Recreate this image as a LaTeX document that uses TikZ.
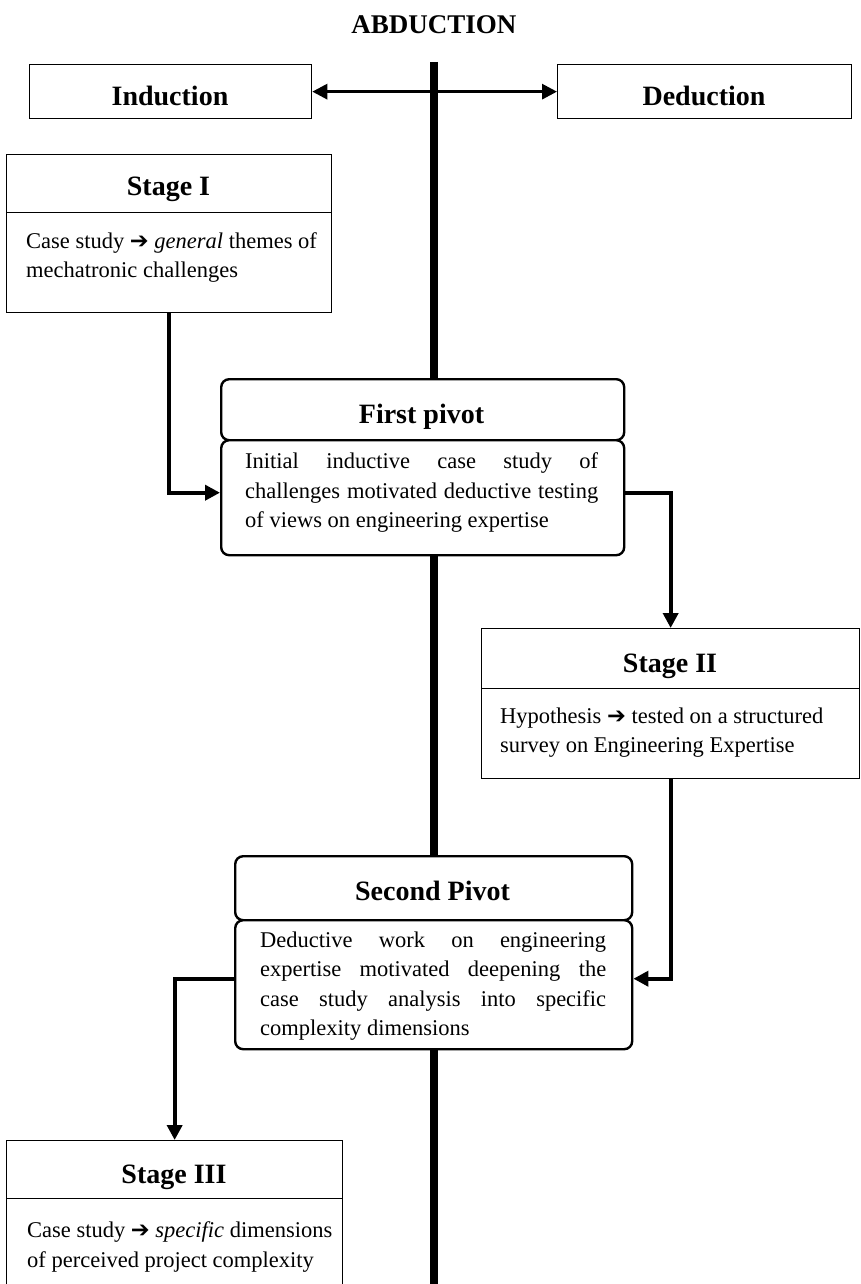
\documentclass[tikz,border=0pt]{standalone}
\usepackage{fontspec}
\setmainfont{Liberation Serif}
\newfontfamily\dingfont{DejaVu Sans}
\usetikzlibrary{arrows.meta}
\newcommand{\thenarrow}{{\dingfont\char"2794}}

\begin{document}
\begin{tikzpicture}[x=1pt,y=-1pt,
  axis/.style={line width=7.5pt},
  stagebox/.style={draw, line width=1.3pt, fill=white, inner sep=0pt, anchor=north west},
  pivotbox/.style={draw, line width=2.4pt, fill=white, rounded corners=8pt, inner sep=0pt, anchor=north west},
  head/.style={font=\fontsize{28}{32}\selectfont\bfseries, inner sep=0pt, anchor=base},
  body/.style={font=\fontsize{22.5}{29.5}\selectfont, align=left, inner sep=0pt, anchor=north west},
  conn/.style={line width=3.8pt, -{Triangle[length=15pt,width=15pt]}},
  dbl/.style={line width=3pt, {Triangle[length=15pt,width=15pt]}-{Triangle[length=15pt,width=15pt]}},
]
\useasboundingbox (0,0) rectangle (860,1284);
\clip (0,0) rectangle (860,1284);

% central abduction axis
\coordinate (axtop) at (434,62);
\coordinate (axend) at (434,1300);
\draw[axis] (axtop) -- (axend);

\node[font=\fontsize{27}{30}\selectfont\bfseries, inner sep=0pt, anchor=base] (title) at (434,34) {ABDUCTION};

% induction / deduction
\node[stagebox, minimum width=282pt, minimum height=54pt] (ind) at (29,64) {};
\node[head] (indt) at (170,106) {Induction};
\node[stagebox, minimum width=294pt, minimum height=54pt] (ded) at (557,64) {};
\node[head] (dedt) at (704,106) {Deduction};
\draw[dbl] (ind.east) -- (ded.west);

% Stage I
\node[stagebox, minimum width=325pt, minimum height=58pt] (s1h) at (6,154) {};
\node[stagebox, minimum width=325pt, minimum height=100pt] (s1) at (6,212) {};
\node[head] (s1t) at (168.5,196) {Stage I};
\node[body] (s1x) at (26,232) {Case study \thenarrow{} \emph{general} themes of\\mechatronic challenges};

% First pivot
\node[pivotbox, minimum width=403pt, minimum height=61pt] (p1h) at (220,378) {};
\node[pivotbox, minimum width=403pt, minimum height=115pt] (p1) at (220,439) {};
\node[head] (p1t) at (421.5,423) {First pivot};
\node[body] (p1x) at (245,452.5) {\makebox[353pt][s]{Initial inductive case study of}\\
  \makebox[353pt][s]{challenges motivated deductive testing}\\
  of views on engineering expertise};

% Stage II
\node[stagebox, minimum width=378pt, minimum height=60pt] (s2h) at (481,628) {};
\node[stagebox, minimum width=378pt, minimum height=90pt] (s2) at (481,688) {};
\node[head] (s2t) at (670,672) {Stage II};
\node[body] (s2x) at (500,707.5) {Hypothesis \thenarrow{} tested on a structured\\survey on Engineering Expertise};

% Second pivot
\node[pivotbox, minimum width=397pt, minimum height=64pt] (p2h) at (234,855) {};
\node[pivotbox, minimum width=397pt, minimum height=129pt] (p2) at (234,919) {};
\node[head] (p2t) at (432.5,900) {Second Pivot};
\node[body] (p2x) at (260,931.5) {\makebox[346pt][s]{Deductive work on engineering}\\
  \makebox[346pt][s]{expertise motivated deepening the}\\
  \makebox[346pt][s]{case study analysis into specific}\\
  complexity dimensions};

% Stage III
\node[stagebox, minimum width=336pt, minimum height=58pt] (s3h) at (6,1140) {};
\node[stagebox, minimum width=336pt, minimum height=110pt] (s3) at (6,1198) {};
\node[head] (s3t) at (174,1183) {Stage III};
\node[body] (s3x) at (27,1221.5) {Case study \thenarrow{} \emph{specific} dimensions\\of perceived project complexity};

% flow between stages and pivots
\draw[conn] (s1.south) |- ([yshift=5pt]p1.west);
\draw[conn] ([yshift=5pt]p1.east) -| (s2h.north);
\draw[conn] (s2.south) |- ([yshift=6pt]p2.east);
\draw[conn] ([yshift=6pt]p2.west) -| (s3h.north);
\end{tikzpicture}
\end{document}
